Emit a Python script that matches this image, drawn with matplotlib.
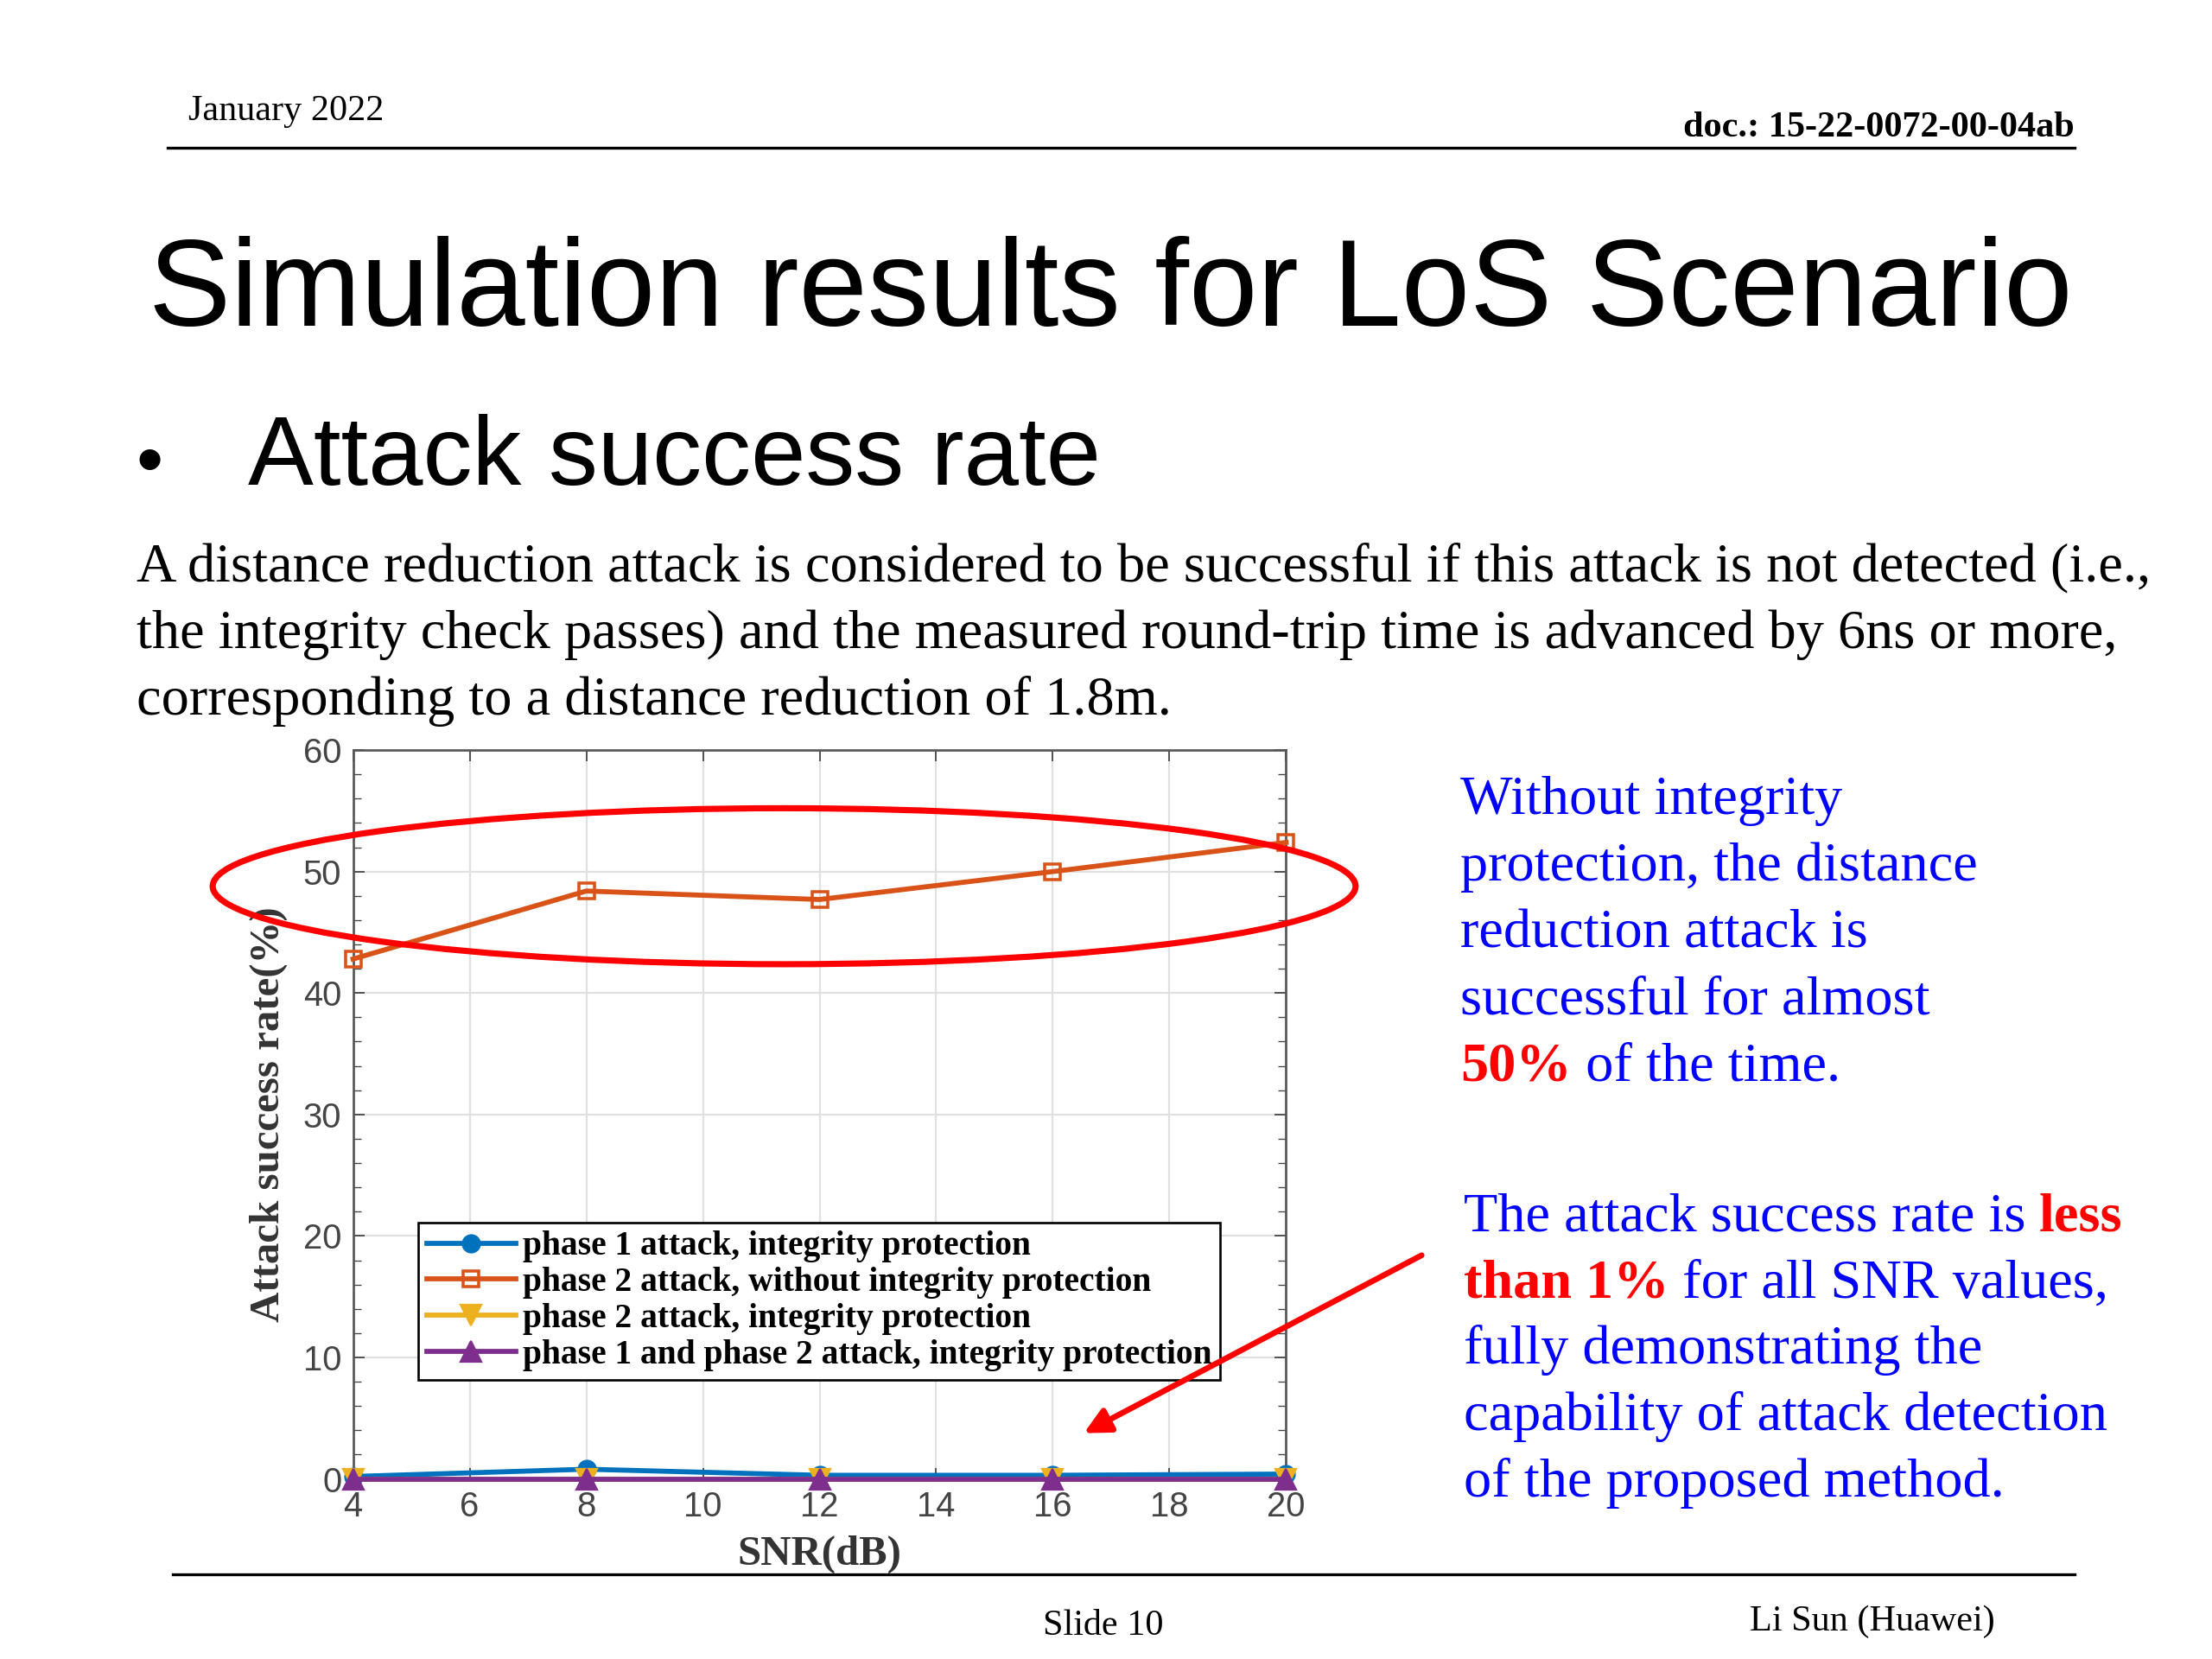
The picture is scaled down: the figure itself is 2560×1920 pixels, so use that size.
import matplotlib
matplotlib.use('Agg')
import matplotlib.pyplot as plt
from matplotlib.patches import Ellipse, FancyArrowPatch

# данные с графика
snr = [4, 8, 12, 16, 20]
p1_integrity = [0.2, 0.8, 0.3, 0.3, 0.4]
p2_no_integrity = [42.8, 48.4, 47.7, 50.0, 52.4]
p2_integrity = [0.0, 0.0, 0.0, 0.0, 0.0]
p12_integrity = [0.0, 0.0, 0.0, 0.0, 0.0]
labels = ['phase 1 attack, integrity protection',
          'phase 2 attack, without integrity protection',
          'phase 2 attack, integrity protection',
          'phase 1 and phase 2 attack, integrity protection']

W, H = 1560.0, 1170.0
SERIF = 'Liberation Serif'
SANS = 'Liberation Sans'
BLUE_TXT = '#0000ff'


def fx(x):
    return x / W


def fy(y):
    return 1 - y / H


fig = plt.figure(figsize=(16, 12), dpi=160)
renderer = fig.canvas.get_renderer()


# строка из кусков разного цвета
def runs(x, y, parts, size):
    cur = fx(x)
    for txt, col, wt in parts:
        t = fig.text(cur, fy(y), txt, color=col, fontweight=wt,
                     fontsize=size, family=SERIF, va='baseline', ha='left')
        bb = t.get_window_extent(renderer)
        cur += bb.width / fig.bbox.width


# шапка
fig.text(fx(133), fy(85), 'January 2022', family=SERIF, fontsize=19, va='baseline')
fig.text(fx(1463), fy(96), 'doc.: 15-22-0072-00-04ab', family=SERIF, fontsize=19,
         fontweight='bold', va='baseline', ha='right')
fig.add_artist(plt.Line2D([fx(118), fx(1463)], [fy(104), fy(104)], color='black', lw=1.5))

fig.text(fx(105), fy(230), 'Simulation results for LoS Scenario', family=SANS,
         fontsize=64.2, va='baseline')
fig.text(fx(96), fy(342), '\u2022', family=SANS, fontsize=40, va='baseline')
fig.text(fx(175), fy(342), 'Attack success rate', family=SANS, fontsize=51.2, va='baseline')

para = ['A distance reduction attack is considered to be successful if this attack is not detected (i.e.,',
        'the integrity check passes) and the measured round-trip time is advanced by 6ns or more,',
        'corresponding to a distance reduction of 1.8m.']
for i, line in enumerate(para):
    fig.text(fx(96), fy(410 + 47 * i), line, family=SERIF, fontsize=28.9, va='baseline')

# правый текст
blue1 = [[('Without integrity', BLUE_TXT, 'normal')],
         [('protection, the distance', BLUE_TXT, 'normal')],
         [('reduction attack is', BLUE_TXT, 'normal')],
         [('successful for almost', BLUE_TXT, 'normal')],
         [('50%', 'red', 'bold'), (' of the time.', BLUE_TXT, 'normal')]]
for i, parts in enumerate(blue1):
    runs(1030, 574 + 47 * i, parts, 28.9)

blue2 = [[('The attack success rate is ', BLUE_TXT, 'normal'), ('less', 'red', 'bold')],
         [('than 1%', 'red', 'bold'), (' for all SNR values,', BLUE_TXT, 'normal')],
         [('fully demonstrating the', BLUE_TXT, 'normal')],
         [('capability of attack detection', BLUE_TXT, 'normal')],
         [('of the proposed method.', BLUE_TXT, 'normal')]]
for i, parts in enumerate(blue2):
    runs(1032, 868 + 46.8 * i, parts, 28.9)

# график
ax = fig.add_axes([fx(249), fy(1043), fx(907) - fx(249), fy(529) - fy(1043)])
ax.plot(snr, p1_integrity, color='#0072BD', marker='o', ms=9, lw=2.6, label=labels[0],
        clip_on=False, zorder=3)
ax.plot(snr, p2_no_integrity, color='#D95319', marker='s', ms=8.5, lw=2.6,
        mfc='none', mew=1.6, label=labels[1], clip_on=False, zorder=3)
ax.plot(snr, p2_integrity, color='#EDB120', marker='v', ms=11, lw=2.6, label=labels[2],
        clip_on=False, zorder=3)
ax.plot(snr, p12_integrity, color='#7E2F8E', marker='^', ms=11, lw=2.6, label=labels[3],
        clip_on=False, zorder=3)

ax.set_xlim(4, 20)
ax.set_ylim(0, 60)
ax.set_xticks(range(4, 21, 2))
ax.set_yticks(range(0, 61, 10))
ax.set_yticks(range(0, 61, 2), minor=True)
ax.grid(True, which='major', color='#e0e0e0', lw=1)
ax.set_axisbelow(True)
ax.tick_params(which='both', direction='in', top=True, right=True, colors='#444444',
               labelsize=18, pad=6)
ax.tick_params(which='major', length=6)
ax.tick_params(which='minor', length=4)
for lab in ax.get_xticklabels() + ax.get_yticklabels():
    lab.set_family(SANS)
for s in ax.spines.values():
    s.set_color('#555555')
    s.set_linewidth(1.2)
ax.set_xlabel('SNR(dB)', family=SERIF, fontweight='bold', fontsize=22,
              color='#333333', labelpad=6)
ax.set_ylabel('Attack success rate(%)', family=SERIF, fontweight='bold', fontsize=22,
              color='#333333', labelpad=8)

leg = ax.legend(loc='upper left', bbox_to_anchor=(fx(295), fy(862)),
                bbox_transform=fig.transFigure, numpoints=1, fancybox=False,
                edgecolor='black', framealpha=1, handlelength=2.6,
                prop={'family': SERIF, 'weight': 'bold', 'size': 17.8},
                borderpad=0.25, labelspacing=0.12, handletextpad=0.2, borderaxespad=0)
leg.get_frame().set_linewidth(1.2)
leg.set_zorder(5)

# красный овал и стрелка
ell = Ellipse((fx(553), fy(625)), fx(806), 110 / H, transform=fig.transFigure,
              fill=False, edgecolor='#ff0000', lw=3.2, zorder=10)
fig.add_artist(ell)
arr = FancyArrowPatch((fx(1005), fy(884)), (fx(762), fy(1012)), transform=fig.transFigure,
                      arrowstyle='-|>', mutation_scale=28, color='#ff0000', lw=3, zorder=10)
fig.add_artist(arr)

# подвал
fig.add_artist(plt.Line2D([fx(122), fx(1463)], [fy(1110), fy(1110)], color='black', lw=1.5))
fig.text(fx(778), fy(1153), 'Slide 10', family=SERIF, fontsize=19, va='baseline', ha='center')
fig.text(fx(1407), fy(1150), 'Li Sun (Huawei)', family=SERIF, fontsize=19, va='baseline', ha='right')

fig.savefig('out.png', dpi=160)
